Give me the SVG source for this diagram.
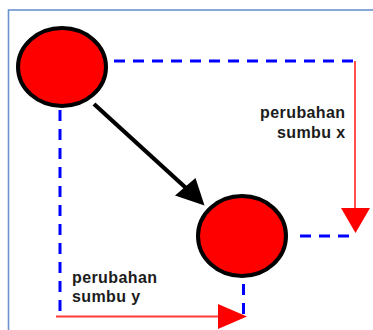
<svg xmlns="http://www.w3.org/2000/svg" width="373" height="330" viewBox="0 0 373 330">
  <defs>
    <style>
      .frame { fill: none; stroke: #6b94cf; stroke-width: 1.6; }
      .ball { fill: #ff0000; stroke: #000; stroke-width: 4; }
      .guide { fill: none; stroke: #0000ff; stroke-width: 3; stroke-dasharray: 11 8; }
      .delta { fill: none; stroke: #ff3b3b; stroke-width: 1.8; }
      .head { fill: #ff0000; stroke: none; }
      .move { fill: none; stroke: #000; stroke-width: 4.2; }
      .lbl { font-family: "Liberation Sans", Arial, sans-serif; font-weight: bold; font-size: 16px; fill: #1c1c1c; letter-spacing: 0.4px; }
    </style>
  </defs>
  <rect width="373" height="330" fill="#fff"/>
  <!-- outer frame, runs past the right and bottom edges -->
  <rect class="frame" x="8.5" y="10" width="380" height="340"/>

  <g id="connectors">
    <!-- dashed guides from the start and end positions -->
    <line class="guide" x1="114" y1="61" x2="357" y2="61"/>
    <line class="guide" x1="60" y1="110" x2="60" y2="312"/>
    <line class="guide" x1="300" y1="236" x2="356" y2="236"/>
    <line class="guide" x1="243.5" y1="284" x2="243.5" y2="316"/>
    <!-- change along x -->
    <line class="delta" x1="355" y1="61" x2="355" y2="212"/>
    <polygon class="head" points="341,208 370,208 355.5,233"/>
    <!-- change along y -->
    <line class="delta" x1="56" y1="316.5" x2="222" y2="316.5"/>
    <polygon class="head" points="218,304 218,329 247,316.5"/>
    <!-- movement arrow -->
    <line class="move" x1="94" y1="104" x2="186" y2="188"/>
    <polygon fill="#000" points="175,195.5 195.5,178 204.5,205.5"/>
  </g>

  <g id="start">
    <ellipse class="ball" cx="62" cy="67" rx="44" ry="39"/>
  </g>
  <g id="end">
    <ellipse class="ball" cx="242" cy="236" rx="44" ry="40"/>
  </g>

  <g id="label-x">
    <text class="lbl" x="345.5" y="117.5" text-anchor="end">perubahan</text>
    <text class="lbl" x="345.5" y="138" text-anchor="end">sumbu x</text>
  </g>
  <g id="label-y">
    <text class="lbl" x="72" y="282.5">perubahan</text>
    <text class="lbl" x="72" y="302">sumbu y</text>
  </g>
</svg>
